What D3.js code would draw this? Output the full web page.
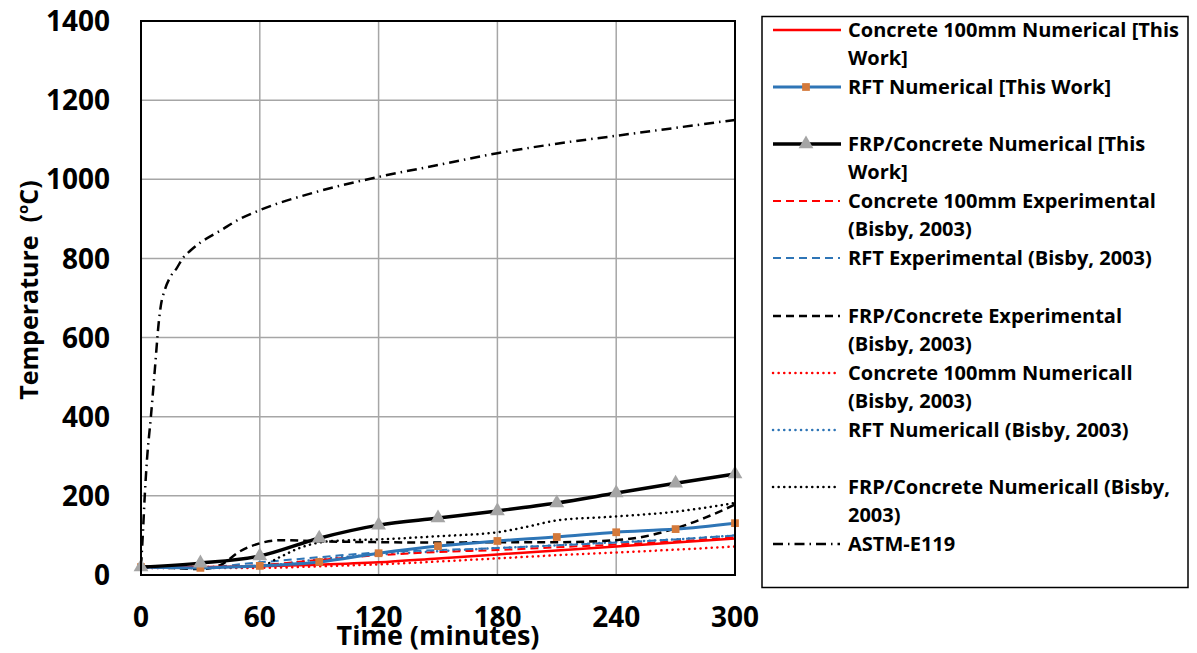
<!DOCTYPE html>
<html>
<head>
<meta charset="utf-8">
<script src="https://cdn.jsdelivr.net/npm/d3@7"></script>
<style>
  body { margin: 0; background: #fff; }
  svg text { font-family: "Open Sans", Lato, sans-serif; font-weight: bold; fill: #000; }
</style>
</head>
<body>
<div id="chart"></div>
<script>
/* ── data ────────────────────────────────────────────────────── */
const tMarks = [0, 30, 60, 90, 120, 150, 180, 210, 240, 270, 300];

const concNumWork = [20, 20, 22, 26, 32, 42, 52, 62, 72, 82, 92];
const rftNumWork  = [20, 18, 23, 33, 55, 73, 86, 96, 108, 116, 131];
const frpNumWork  = [20, 30, 48, 93, 126, 144, 162, 182, 207, 232, 255];

const concExp     = [20, 20, 25, 38, 50, 58, 63, 70, 77, 85, 95];
const rftExp      = [20, 20, 32, 45, 57, 63, 68, 75, 82, 90, 100];
const rftNumBisby = [18, 18, 22, 40, 52, 60, 68, 75, 83, 90, 100];
const concNumBisby = [18, 18, 18, 22, 27, 34, 42, 50, 57, 64, 72];

const tFrpExp = [0, 15, 30, 40, 50, 60, 70, 90, 120, 150, 180, 210, 240, 255, 270, 285, 300];
const frpExp  = [20, 18, 15, 25, 60, 80, 88, 85, 83, 82, 83, 83, 88, 98, 118, 145, 178];

const tFrpNumB = [0, 30, 60, 70, 80, 90, 105, 120, 150, 180, 195, 210, 240, 270, 300];
const frpNumB  = [20, 20, 22, 45, 68, 82, 88, 90, 98, 108, 122, 138, 148, 160, 182];

const tAstm = [0, 1, 2, 3, 5, 7, 9, 10, 12, 15, 18, 21, 25, 30, 40, 50, 60, 90, 120, 150, 180, 210, 240, 270, 300];
const astm  = [20, 110, 210, 290, 400, 520, 640, 680, 720, 755, 775, 800, 820, 840, 870, 900, 922, 970, 1006, 1036, 1066, 1090, 1110, 1130, 1150];

const xTicks = [0, 60, 120, 180, 240, 300];
const yTicks = [0, 200, 400, 600, 800, 1000, 1200, 1400];

/* ── layout ──────────────────────────────────────────────────── */
const W = 1197, H = 653;
const ML = 141, MT = 21, PW = 594, PH = 554;

const svg = d3.select('#chart').append('svg').attr('width', W).attr('height', H);

const x = d3.scaleLinear().domain([0, 300]).range([ML, ML + PW]);
const y = d3.scaleLinear().domain([0, 1400]).range([MT + PH, MT]);

// grid
svg.append('g').selectAll('line').data(xTicks.slice(1, -1)).join('line')
  .attr('x1', d => x(d)).attr('x2', d => x(d)).attr('y1', MT).attr('y2', MT + PH)
  .attr('stroke', '#a6a6a6').attr('stroke-width', 1.5);
svg.append('g').selectAll('line').data(yTicks.slice(1, -1)).join('line')
  .attr('x1', ML).attr('x2', ML + PW).attr('y1', d => y(d)).attr('y2', d => y(d))
  .attr('stroke', '#a6a6a6').attr('stroke-width', 1.5);

// tick labels
svg.append('g').selectAll('text').data(yTicks).join('text')
  .attr('x', 110).attr('y', d => y(d)).attr('dy', '0.36em')
  .attr('text-anchor', 'end').attr('font-size', 28).text(d => d);
svg.append('g').selectAll('text').data(xTicks).join('text')
  .attr('x', d => x(d)).attr('y', 627)
  .attr('text-anchor', 'middle').attr('font-size', 28).text(d => d);

// axis titles
svg.append('text').attr('x', 438).attr('y', 645).attr('text-anchor', 'middle')
  .attr('font-size', 27).text('Time (minutes)');
const yt = svg.append('text').attr('transform', 'translate(38,290) rotate(-90)')
  .attr('text-anchor', 'middle').attr('font-size', 25).style('white-space', 'pre');
yt.append('tspan').text('Temperature  (');
yt.append('tspan').attr('font-size', 15).attr('dy', -10).text('o');
yt.append('tspan').attr('dy', 10).text('C)');

/* ── series ──────────────────────────────────────────────────── */
const DOT = '0.1,5.5', DASH = '8,5', DASHDOT = '10,5,1.5,5';

const series = [
  { name: ['Concrete 100mm Numerical [This', 'Work]'], t: tMarks, v: concNumWork, color: '#ff0000', w: 2.5 },
  { name: ['RFT Numerical [This Work]'], t: tMarks, v: rftNumWork, color: '#2e75b6', w: 3, marker: 'square' },
  { name: ['FRP/Concrete Numerical [This', 'Work]'], t: tMarks, v: frpNumWork, color: '#000', w: 3.5, marker: 'triangle' },
  { name: ['Concrete 100mm Experimental', '(Bisby, 2003)'], t: tMarks, v: concExp, color: '#ff0000', w: 2, dash: DASH },
  { name: ['RFT Experimental (Bisby, 2003)'], t: tMarks, v: rftExp, color: '#2e75b6', w: 2, dash: DASH },
  { name: ['FRP/Concrete Experimental', '(Bisby, 2003)'], t: tFrpExp, v: frpExp, color: '#000', w: 2.5, dash: DASH },
  { name: ['Concrete 100mm Numericall', '(Bisby, 2003)'], t: tMarks, v: concNumBisby, color: '#ff0000', w: 2.5, dash: DOT, cap: 'round' },
  { name: ['RFT Numericall (Bisby, 2003)'], t: tMarks, v: rftNumBisby, color: '#2e75b6', w: 2.5, dash: DOT, cap: 'round' },
  { name: ['FRP/Concrete Numericall (Bisby,', '2003)'], t: tFrpNumB, v: frpNumB, color: '#000', w: 2.5, dash: DOT, cap: 'round' },
  { name: ['ASTM-E119'], t: tAstm, v: astm, color: '#000', w: 2.5, dash: DASHDOT },
];

const line = d3.line().x(d => x(d[0])).y(d => y(d[1])).curve(d3.curveMonotoneX);
const tri = d3.symbol().type(d3.symbolTriangle).size(95);
const sq = d3.symbol().type(d3.symbolSquare).size(60);

const plot = svg.append('g');
// draw experimental / bisby first, then this-work lines on top
const order = [9, 6, 7, 3, 4, 5, 8, 0, 1, 2];
order.forEach(i => {
  const s = series[i];
  const pts = s.t.map((t, k) => [t, s.v[k]]);
  plot.append('path').datum(pts).attr('d', line)
    .attr('fill', 'none').attr('stroke', s.color).attr('stroke-width', s.w)
    .attr('stroke-dasharray', s.dash || null).attr('stroke-linecap', s.cap || 'butt');
  if (s.marker) {
    plot.append('g').selectAll('path').data(pts).join('path')
      .attr('transform', d => `translate(${x(d[0])},${y(d[1])})`)
      .attr('d', s.marker === 'triangle' ? tri : sq)
      .attr('fill', s.marker === 'triangle' ? '#a5a5a5' : '#d4793a');
  }
});

// plot border
svg.append('rect').attr('x', ML).attr('y', MT).attr('width', PW).attr('height', PH)
  .attr('fill', 'none').attr('stroke', '#000').attr('stroke-width', 2);

/* ── legend ──────────────────────────────────────────────────── */
svg.append('rect').attr('x', 762).attr('y', 16.5).attr('width', 426).attr('height', 571)
  .attr('fill', 'none').attr('stroke', '#000').attr('stroke-width', 1.5);

const rowY = [30, 87, 144, 201, 258, 316, 373, 430, 487, 544];
series.forEach((s, i) => {
  const g = svg.append('g').attr('transform', `translate(0,${rowY[i]})`);
  g.append('line').attr('x1', 773).attr('x2', s.dash ? 840 : 841).attr('y1', 0).attr('y2', 0)
    .attr('stroke', s.color).attr('stroke-width', s.w)
    .attr('stroke-dasharray', s.dash || null).attr('stroke-linecap', s.cap || 'butt');
  if (s.marker) {
    g.append('path').attr('transform', 'translate(806,0)')
      .attr('d', s.marker === 'triangle' ? tri : sq)
      .attr('fill', s.marker === 'triangle' ? '#a5a5a5' : '#d4793a');
  }
  s.name.forEach((txt, k) => {
    g.append('text').attr('x', 848).attr('y', k * 28).attr('dy', '0.36em')
      .attr('font-size', 20).text(txt);
  });
});
</script>
</body>
</html>
